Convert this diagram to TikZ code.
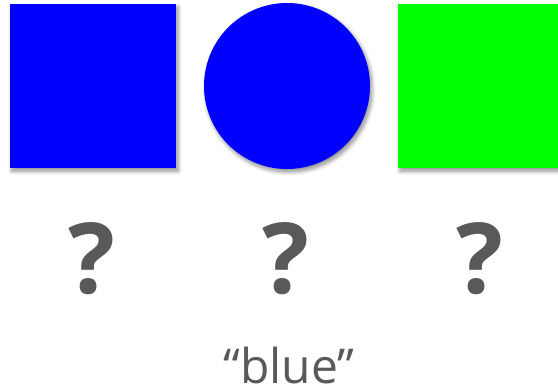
\documentclass[tikz,border=0pt]{standalone}
\usepackage{fontspec}
\setmainfont{Open Sans}
\usetikzlibrary{shadows.blur}
\definecolor{txtgray}{HTML}{595959}
\begin{document}
\begin{tikzpicture}[x=1pt,y=-1pt,
  shadowed/.style={blur shadow={shadow xshift=2pt,shadow yshift=-3pt,shadow blur steps=8,shadow opacity=45,shadow blur radius=4pt}},
  qmark/.style={anchor=base,inner sep=0pt,text=txtgray,font=\fontsize{98}{98}\selectfont\bfseries},
  word/.style={anchor=base,inner sep=0pt,text depth=0pt,text=txtgray,font=\fontsize{48}{48}\selectfont}]
\useasboundingbox (0,0) rectangle (558,389);
\begin{scope}
\clip (0,0) rectangle (558,389);
\fill[blue,shadowed] (10,4) rectangle (176,168);
\coordinate (sq1) at (93,86);
\fill[blue,shadowed] (287,86) circle[radius=83];
\coordinate (circ) at (287,86);
\fill[green,shadowed] (398,4) rectangle (564,168);
\coordinate (sq2) at (481,86);
\end{scope}
\node[qmark] (q1) at (92,293) {?};
\node[qmark] (q2) at (286,293) {?};
\node[qmark] (q3) at (480,293) {?};
\node[word] (lbl) at (289,383) {“blue”};
\end{tikzpicture}
\end{document}
